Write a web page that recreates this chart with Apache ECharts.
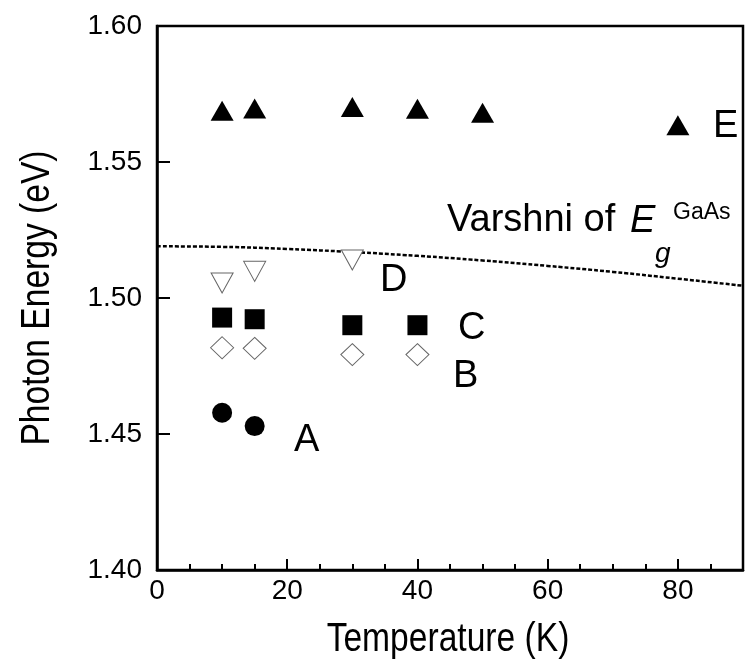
<!DOCTYPE html>
<html>
<head>
<meta charset="utf-8">
<script src="https://cdn.jsdelivr.net/npm/echarts@6/dist/echarts.min.js"></script>
<style>
  html, body { margin: 0; padding: 0; background: #fff; }
  #chart { width: 746px; height: 666px; }
</style>
</head>
<body>
<div id="chart"></div>
<script>
// peak energies (eV) vs temperature (K)
var tempA = [10, 15];
var energyA = [1.4578, 1.4529];
var tempB = [10, 15, 30, 40];
var energyB = [1.4817, 1.4815, 1.4792, 1.4792];
var tempC = [10, 15, 30, 40];
var energyC = [1.4928, 1.4922, 1.4900, 1.4900];
var tempD = [10, 15, 30];
var energyD = [1.5055, 1.5098, 1.5140];
var tempE = [10, 15, 30, 40, 50, 80];
var energyE = [1.5688, 1.5697, 1.5702, 1.5696, 1.5681, 1.5635];
// dashed Varshni curve for GaAs
var varshniT = [0, 10, 20, 30, 40, 50, 60, 70, 80, 90];
var varshniE = [1.5190, 1.5188, 1.5180, 1.5169, 1.5155, 1.5138, 1.5118, 1.5096, 1.5071, 1.5045];

var xTicks = [0, 20, 40, 60, 80];
var yTicks = [1.40, 1.45, 1.50, 1.55, 1.60];

function pairs(xs, ys) {
    var out = [];
    for (let i = 0; i < xs.length; i++) {
        out.push([xs[i], ys[i]]);
    }
    return out;
}

var font = 'Liberation Sans';

// text labels placed by hand
function label(txt, x, y, size, extra) {
    var style = { text: txt, fontFamily: font, fontSize: size, fill: '#000', align: 'left', verticalAlign: 'middle' };
    if (extra) {
        for (let k in extra) style[k] = extra[k];
    }
    return { type: 'text', x: x, y: y, style: style, z: 10 };
}

var myChart = echarts.init(document.getElementById('chart'));
var option = {
    animation: false,
    backgroundColor: '#fff',
    grid: {
        left: 157,
        top: 26,
        width: 594,
        height: 544,
        show: true,
        borderColor: '#000',
        borderWidth: 2.5
    },
    xAxis: {
        type: 'value',
        min: 0,
        max: 90,
        interval: 20,
        axisLine: { lineStyle: { color: '#000', width: 2.5 } },
        axisTick: { inside: true, length: 11, lineStyle: { color: '#000', width: 2 } },
        minorTick: { show: true, splitNumber: 4, length: 6, lineStyle: { color: '#000', width: 2 } },
        splitLine: { show: false },
        axisLabel: {
            margin: 7,
            fontFamily: font,
            fontSize: 28,
            color: '#000',
            formatter: function (v) { return xTicks.indexOf(v) >= 0 ? String(v) : ''; }
        }
    },
    yAxis: {
        type: 'value',
        min: 1.40,
        max: 1.60,
        interval: 0.05,
        axisLine: { lineStyle: { color: '#000', width: 2.5 } },
        axisTick: { inside: true, length: 13, lineStyle: { color: '#000', width: 2 } },
        splitLine: { show: false },
        axisLabel: {
            margin: 15,
            fontFamily: font,
            fontSize: 28,
            color: '#000',
            formatter: function (v) {
                for (let i = 0; i < yTicks.length; i++) {
                    if (Math.abs(yTicks[i] - v) < 1e-6) return yTicks[i].toFixed(2);
                }
                return '';
            }
        }
    },
    series: [
        {
            name: 'Varshni',
            type: 'line',
            data: pairs(varshniT, varshniE),
            smooth: true,
            symbol: 'none',
            lineStyle: { color: '#000', width: 2.5, type: [4, 2] },
            z: 1
        },
        {
            name: 'A',
            type: 'scatter',
            data: pairs(tempA, energyA),
            symbol: 'circle',
            symbolSize: 20,
            itemStyle: { color: '#000', opacity: 1 }
        },
        {
            name: 'B',
            type: 'scatter',
            data: pairs(tempB, energyB),
            symbol: 'diamond',
            symbolSize: [23, 22],
            itemStyle: { color: '#fff', borderColor: '#666', borderWidth: 1, opacity: 1 }
        },
        {
            name: 'C',
            type: 'scatter',
            data: pairs(tempC, energyC),
            symbol: 'rect',
            symbolSize: 20,
            itemStyle: { color: '#000', opacity: 1 }
        },
        {
            name: 'D',
            type: 'scatter',
            data: pairs(tempD, energyD),
            symbol: 'triangle',
            symbolRotate: 180,
            symbolSize: [22, 20],
            itemStyle: { color: '#fff', borderColor: '#666', borderWidth: 1, opacity: 1 }
        },
        {
            name: 'E',
            type: 'scatter',
            data: pairs(tempE, energyE),
            symbol: 'triangle',
            symbolSize: [23, 20],
            itemStyle: { color: '#000', opacity: 1 }
        }
    ],
    graphic: [
        label('A', 294, 441, 38),
        label('B', 453, 377, 38),
        label('C', 458, 329, 38),
        label('D', 380, 281, 38),
        label('E', 713, 127, 38),
        label('Varshni of', 447, 221, 38),
        label('E', 630, 221, 38, { fontStyle: 'italic' }),
        label('g', 655, 254, 28, { fontStyle: 'italic' }),
        label('GaAs', 673, 213, 23),
        // axis titles look condensed in the original, squeeze them a bit
        {
            type: 'text', x: 448, y: 640, scaleX: 0.84, z: 10,
            style: { text: 'Temperature (K)', fontFamily: font, fontSize: 40, fill: '#000', align: 'center', verticalAlign: 'middle' }
        },
        {
            type: 'text', x: 38, y: 298, rotation: Math.PI / 2, scaleX: 0.84, z: 10,
            style: { text: 'Photon Energy (eV)', fontFamily: font, fontSize: 40, fill: '#000', align: 'center', verticalAlign: 'middle' }
        }
    ]
};
myChart.setOption(option);
</script>
</body>
</html>
